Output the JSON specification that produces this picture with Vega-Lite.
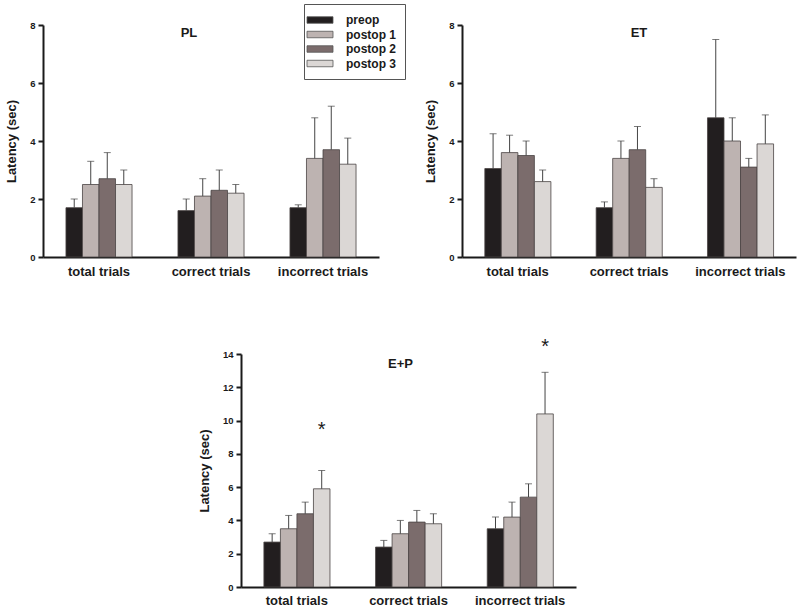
{
  "$schema": "https://vega.github.io/schema/vega-lite/v6.json",
  "padding": {"left": 5, "top": 3, "right": 3, "bottom": 5},
  "bounds": "flush",
  "spacing": 329,
  "config": {
    "view": {"stroke": null},
    "font": "Liberation Sans",
    "axis": {"grid": false, "labelOverlap": false, "domainColor": "#1a1a1a", "domainWidth": 2, "tickColor": "#1a1a1a", "tickWidth": 2, "labelFont": "Liberation Sans", "titleFont": "Liberation Sans", "labelColor": "#1a1a1a", "titleColor": "#1a1a1a"},
    "axisY": {"titleFontSize": 13, "titleFontWeight": "bold", "titlePadding": 11, "labelFontSize": 9.5, "labelFontWeight": "bold", "tickSize": 5, "labelPadding": 3},
    "title": {"font": "Liberation Sans", "fontSize": 13, "fontWeight": "bold", "color": "#1a1a1a"}
  },
  "datasets": {
    "bars": [
      {"panel": "PL", "trial": "total trials", "group": "preop", "value": 1.7, "upper": 2.0},
      {"panel": "PL", "trial": "total trials", "group": "postop 1", "value": 2.5, "upper": 3.3},
      {"panel": "PL", "trial": "total trials", "group": "postop 2", "value": 2.7, "upper": 3.6},
      {"panel": "PL", "trial": "total trials", "group": "postop 3", "value": 2.5, "upper": 3.0},
      {"panel": "PL", "trial": "correct trials", "group": "preop", "value": 1.6, "upper": 2.0},
      {"panel": "PL", "trial": "correct trials", "group": "postop 1", "value": 2.1, "upper": 2.7},
      {"panel": "PL", "trial": "correct trials", "group": "postop 2", "value": 2.3, "upper": 3.0},
      {"panel": "PL", "trial": "correct trials", "group": "postop 3", "value": 2.2, "upper": 2.5},
      {"panel": "PL", "trial": "incorrect trials", "group": "preop", "value": 1.7, "upper": 1.8},
      {"panel": "PL", "trial": "incorrect trials", "group": "postop 1", "value": 3.4, "upper": 4.8},
      {"panel": "PL", "trial": "incorrect trials", "group": "postop 2", "value": 3.7, "upper": 5.2},
      {"panel": "PL", "trial": "incorrect trials", "group": "postop 3", "value": 3.2, "upper": 4.1},
      {"panel": "ET", "trial": "total trials", "group": "preop", "value": 3.05, "upper": 4.25},
      {"panel": "ET", "trial": "total trials", "group": "postop 1", "value": 3.6, "upper": 4.2},
      {"panel": "ET", "trial": "total trials", "group": "postop 2", "value": 3.5, "upper": 4.0},
      {"panel": "ET", "trial": "total trials", "group": "postop 3", "value": 2.6, "upper": 3.0},
      {"panel": "ET", "trial": "correct trials", "group": "preop", "value": 1.7, "upper": 1.9},
      {"panel": "ET", "trial": "correct trials", "group": "postop 1", "value": 3.4, "upper": 4.0},
      {"panel": "ET", "trial": "correct trials", "group": "postop 2", "value": 3.7, "upper": 4.5},
      {"panel": "ET", "trial": "correct trials", "group": "postop 3", "value": 2.4, "upper": 2.7},
      {"panel": "ET", "trial": "incorrect trials", "group": "preop", "value": 4.8, "upper": 7.5},
      {"panel": "ET", "trial": "incorrect trials", "group": "postop 1", "value": 4.0, "upper": 4.8},
      {"panel": "ET", "trial": "incorrect trials", "group": "postop 2", "value": 3.1, "upper": 3.4},
      {"panel": "ET", "trial": "incorrect trials", "group": "postop 3", "value": 3.9, "upper": 4.9},
      {"panel": "E+P", "trial": "total trials", "group": "preop", "value": 2.7, "upper": 3.2},
      {"panel": "E+P", "trial": "total trials", "group": "postop 1", "value": 3.5, "upper": 4.3},
      {"panel": "E+P", "trial": "total trials", "group": "postop 2", "value": 4.4, "upper": 5.1},
      {"panel": "E+P", "trial": "total trials", "group": "postop 3", "value": 5.9, "upper": 7.0, "sig": "*", "sigY": 9.7},
      {"panel": "E+P", "trial": "correct trials", "group": "preop", "value": 2.4, "upper": 2.8},
      {"panel": "E+P", "trial": "correct trials", "group": "postop 1", "value": 3.2, "upper": 4.0},
      {"panel": "E+P", "trial": "correct trials", "group": "postop 2", "value": 3.9, "upper": 4.6},
      {"panel": "E+P", "trial": "correct trials", "group": "postop 3", "value": 3.8, "upper": 4.4},
      {"panel": "E+P", "trial": "incorrect trials", "group": "preop", "value": 3.5, "upper": 4.2},
      {"panel": "E+P", "trial": "incorrect trials", "group": "postop 1", "value": 4.2, "upper": 5.1},
      {"panel": "E+P", "trial": "incorrect trials", "group": "postop 2", "value": 5.4, "upper": 6.2},
      {"panel": "E+P", "trial": "incorrect trials", "group": "postop 3", "value": 10.4, "upper": 12.9, "sig": "*", "sigY": 14.65}
    ]
  },
  "vconcat": [
    {
      "bounds": "flush",
      "spacing": 83,
      "hconcat": [
        {
          "width": 336, "height": 232,
          "data": {"name": "bars"},
          "transform": [{"filter": "datum.panel === 'PL'"}],
          "title": {"text": "PL", "frame": "group", "offset": -26, "baseline": "middle", "dx": -22},
          "encoding": {
            "x": {"field": "trial", "type": "nominal", "sort": ["total trials", "correct trials", "incorrect trials"], "scale": {"paddingInner": 0.41, "paddingOuter": 0.205},
              "axis": {"title": null, "labelAngle": 0, "ticks": false, "labelFontSize": 13, "labelFontWeight": "bold", "labelPadding": 8}},
            "xOffset": {"field": "group", "type": "nominal", "sort": ["preop", "postop 1", "postop 2", "postop 3"]}
          },
          "layer": [
            {"mark": {"type": "bar", "stroke": "#4a4444", "strokeWidth": 0.8},
             "encoding": {
               "y": {"field": "value", "type": "quantitative", "title": "Latency (sec)", "scale": {"domain": [0, 8]}, "axis": {"values": [0, 2, 4, 6, 8]}},
               "color": {"field": "group", "type": "nominal", "sort": ["preop", "postop 1", "postop 2", "postop 3"],
                 "scale": {"domain": ["preop", "postop 1", "postop 2", "postop 3"], "range": ["#221e1f", "#bdb3b1", "#7b6c6c", "#dbd7d5"]},
                 "legend": {"title": null, "orient": "none", "legendX": 261, "legendY": -21, "strokeColor": "#555555", "padding": 9, "symbolType": "M-2,-0.5H2V0.5H-2Z", "symbolSize": 169, "symbolStrokeColor": "#555555", "symbolStrokeWidth": 0.8, "labelFontSize": 12, "labelFontWeight": "bold", "labelColor": "#1a1a1a", "rowPadding": 1.5, "labelOffset": 19}}
             }},
            {"mark": {"type": "rule", "color": "#444444", "strokeWidth": 1},
             "encoding": {"y": {"field": "value", "type": "quantitative", "title": "Latency (sec)", "axis": {"values": [0, 2, 4, 6, 8]}}, "y2": {"field": "upper"}}},
            {"mark": {"type": "tick", "color": "#444444", "thickness": 1, "size": 7},
             "encoding": {"y": {"field": "upper", "type": "quantitative", "title": "Latency (sec)", "axis": {"values": [0, 2, 4, 6, 8]}}}}
          ]
        },
        {
          "width": 334, "height": 232,
          "data": {"name": "bars"},
          "transform": [{"filter": "datum.panel === 'ET'"}],
          "title": {"text": "ET", "frame": "group", "offset": -26, "baseline": "middle", "dx": 10},
          "encoding": {
            "x": {"field": "trial", "type": "nominal", "sort": ["total trials", "correct trials", "incorrect trials"], "scale": {"paddingInner": 0.41, "paddingOuter": 0.205},
              "axis": {"title": null, "labelAngle": 0, "ticks": false, "labelFontSize": 13, "labelFontWeight": "bold", "labelPadding": 8}},
            "xOffset": {"field": "group", "type": "nominal", "sort": ["preop", "postop 1", "postop 2", "postop 3"]}
          },
          "layer": [
            {"mark": {"type": "bar", "stroke": "#4a4444", "strokeWidth": 0.8},
             "encoding": {
               "y": {"field": "value", "type": "quantitative", "title": "Latency (sec)", "scale": {"domain": [0, 8]}, "axis": {"values": [0, 2, 4, 6, 8]}},
               "color": {"field": "group", "type": "nominal", "sort": ["preop", "postop 1", "postop 2", "postop 3"],
                 "scale": {"domain": ["preop", "postop 1", "postop 2", "postop 3"], "range": ["#221e1f", "#bdb3b1", "#7b6c6c", "#dbd7d5"]}, "legend": null}
             }},
            {"mark": {"type": "rule", "color": "#444444", "strokeWidth": 1},
             "encoding": {"y": {"field": "value", "type": "quantitative", "title": "Latency (sec)", "axis": {"values": [0, 2, 4, 6, 8]}}, "y2": {"field": "upper"}}},
            {"mark": {"type": "tick", "color": "#444444", "thickness": 1, "size": 7},
             "encoding": {"y": {"field": "upper", "type": "quantitative", "title": "Latency (sec)", "axis": {"values": [0, 2, 4, 6, 8]}}}}
          ]
        }
      ]
    },
    {
      "bounds": "flush",
      "spacing": 20,
      "hconcat": [
        {
          "width": 178, "height": 233,
          "data": {"values": []},
          "mark": "point"
        },
        {
          "width": 335, "height": 233,
          "data": {"name": "bars"},
          "transform": [{"filter": "datum.panel === 'E+P'"}],
          "title": {"text": "E+P", "frame": "group", "offset": -40, "baseline": "middle", "dx": -8},
          "encoding": {
            "x": {"field": "trial", "type": "nominal", "sort": ["total trials", "correct trials", "incorrect trials"], "scale": {"paddingInner": 0.41, "paddingOuter": 0.205},
              "axis": {"title": null, "labelAngle": 0, "ticks": false, "labelFontSize": 13, "labelFontWeight": "bold", "labelPadding": 7}},
            "xOffset": {"field": "group", "type": "nominal", "sort": ["preop", "postop 1", "postop 2", "postop 3"]}
          },
          "layer": [
            {"mark": {"type": "bar", "stroke": "#4a4444", "strokeWidth": 0.8},
             "encoding": {
               "y": {"field": "value", "type": "quantitative", "title": "Latency (sec)", "scale": {"domain": [0, 14]}, "axis": {"values": [0, 2, 4, 6, 8, 10, 12, 14]}},
               "color": {"field": "group", "type": "nominal", "sort": ["preop", "postop 1", "postop 2", "postop 3"],
                 "scale": {"domain": ["preop", "postop 1", "postop 2", "postop 3"], "range": ["#221e1f", "#bdb3b1", "#7b6c6c", "#dbd7d5"]}, "legend": null}
             }},
            {"mark": {"type": "rule", "color": "#444444", "strokeWidth": 1},
             "encoding": {"y": {"field": "value", "type": "quantitative", "title": "Latency (sec)", "axis": {"values": [0, 2, 4, 6, 8, 10, 12, 14]}}, "y2": {"field": "upper"}}},
            {"mark": {"type": "tick", "color": "#444444", "thickness": 1, "size": 7},
             "encoding": {"y": {"field": "upper", "type": "quantitative", "title": "Latency (sec)", "axis": {"values": [0, 2, 4, 6, 8, 10, 12, 14]}}}},
            {"transform": [{"filter": "datum.sig"}],
             "mark": {"type": "text", "fontSize": 20, "baseline": "middle", "dy": 4, "color": "#1a1a1a", "clip": false},
             "encoding": {"y": {"field": "sigY", "type": "quantitative", "title": "Latency (sec)", "axis": {"values": [0, 2, 4, 6, 8, 10, 12, 14]}}, "text": {"field": "sig"}}}
          ]
        }
      ]
    }
  ]
}
